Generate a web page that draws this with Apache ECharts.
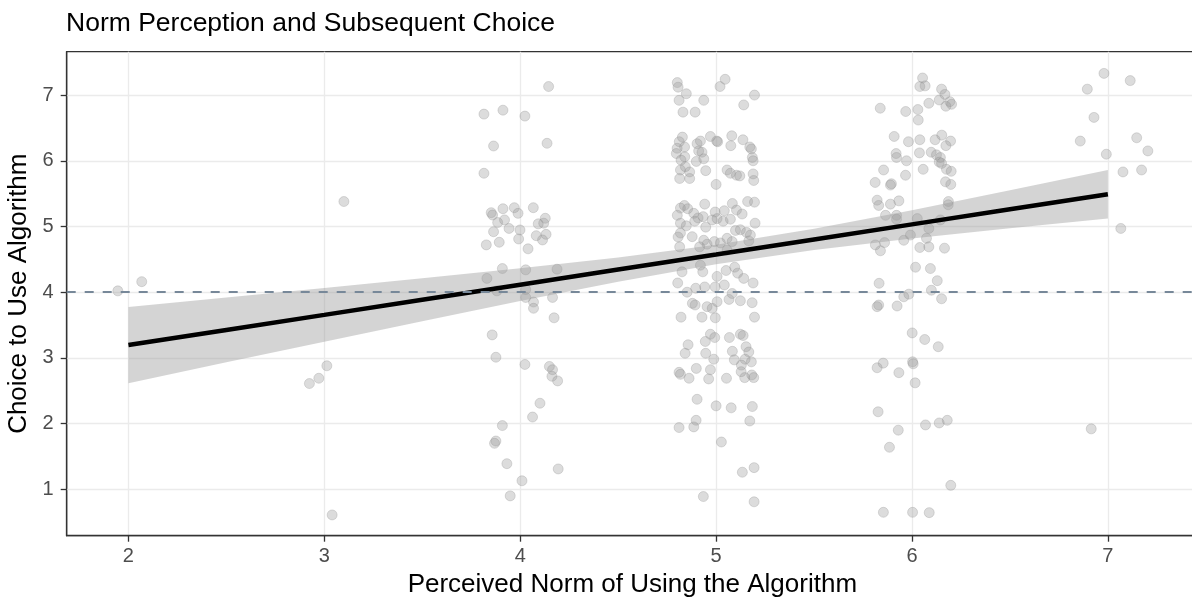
<!DOCTYPE html>
<html>
<head>
<meta charset="utf-8">
<title>Norm Perception and Subsequent Choice</title>
<script src="https://cdn.jsdelivr.net/npm/echarts@6/dist/echarts.min.js"></script>
<style>
  html, body { margin: 0; padding: 0; background: #ffffff; }
  #chart { width: 1192px; height: 600px; }
</style>
</head>
<body>
<div id="chart"></div>
<script>
// Jittered responses [perceived norm, choice], grouped by the norm level they came from
const normLevel2 = [[1.946, 4.02], [2.068, 4.16]];
const normLevel3 = [[2.924, 2.61], [2.972, 2.69], [3.013, 2.88], [3.04, 0.61], [3.10, 5.38]];
const normLevel4 = [
  [4.145, 7.13], [3.815, 6.71], [3.912, 6.77], [4.024, 6.68], [3.864, 6.225], [4.137, 6.266],
  [3.815, 5.81], [3.852, 5.21], [3.859, 5.175], [3.912, 5.27], [3.970, 5.286], [3.989, 5.20],
  [4.067, 5.286], [3.885, 5.06], [3.920, 5.10], [3.943, 4.97], [3.864, 4.92], [3.999, 4.947],
  [3.992, 4.81], [3.893, 4.76], [3.827, 4.72], [4.040, 4.66], [4.092, 5.04], [4.128, 5.125],
  [4.120, 5.05], [4.082, 4.86], [4.132, 4.88], [4.114, 4.795], [3.909, 4.36], [4.028, 4.34],
  [4.188, 4.35], [3.830, 4.21], [3.881, 4.02], [4.028, 4.04], [4.028, 3.92], [4.068, 3.85],
  [4.068, 3.755], [4.165, 3.92], [4.173, 3.61], [3.857, 3.35], [3.876, 3.01], [4.024, 2.90],
  [4.149, 2.87], [4.165, 2.82], [4.162, 2.72], [4.191, 2.65], [4.101, 2.31], [4.063, 2.10],
  [3.909, 1.97], [3.869, 1.70], [3.876, 1.735], [3.932, 1.39], [4.194, 1.31], [4.009, 1.13],
  [3.949, 0.90]
];
const normLevel5 = [
  [4.802, 7.19], [4.806, 7.12], [4.848, 7.02], [4.811, 6.92], [4.937, 6.92], [4.831, 6.74],
  [4.893, 6.74], [5.020, 7.13], [5.046, 7.24], [5.141, 6.85], [5.196, 7.00], [4.828, 6.36],
  [4.812, 6.29], [4.801, 6.19], [4.839, 6.21], [4.903, 6.26], [4.920, 6.30], [4.971, 6.37],
  [5.003, 6.30], [5.008, 6.29], [5.080, 6.38], [5.137, 6.32], [5.075, 6.23], [5.172, 6.21],
  [5.180, 6.18], [4.911, 6.15], [4.928, 6.13], [4.797, 6.11], [4.840, 6.06], [4.821, 6.01],
  [4.937, 6.03], [4.899, 5.99], [5.185, 6.05], [5.189, 6.00], [4.843, 5.91], [4.818, 5.86],
  [4.865, 5.83], [4.947, 5.85], [5.056, 5.86], [5.073, 5.81], [5.104, 5.78], [5.121, 5.77],
  [4.814, 5.73], [4.865, 5.73], [5.189, 5.80], [5.192, 5.70], [5.000, 5.64], [5.161, 5.38],
  [5.196, 5.37], [4.942, 5.34], [4.838, 5.32], [4.818, 5.28], [4.855, 5.27], [4.802, 5.17],
  [4.886, 5.20], [4.908, 5.13], [4.934, 5.15], [4.995, 5.22], [5.042, 5.24], [5.083, 5.35],
  [5.104, 5.25], [5.133, 5.19], [5.199, 5.05], [4.818, 5.05], [4.848, 5.01], [4.891, 5.08],
  [4.947, 4.99], [4.980, 5.10], [5.005, 5.12], [5.036, 5.08], [5.073, 5.11], [5.099, 4.94],
  [5.124, 4.95], [5.155, 4.91], [5.175, 4.87], [4.806, 4.84], [4.814, 4.69], [4.878, 4.845],
  [4.937, 4.79], [4.954, 4.73], [4.991, 4.77], [5.022, 4.75], [5.056, 4.82], [5.082, 4.77],
  [5.167, 4.78], [4.916, 4.69], [5.056, 4.64], [4.818, 4.90], [4.826, 4.31], [4.920, 4.41],
  [4.932, 4.31], [5.005, 4.24], [5.051, 4.33], [5.095, 4.38], [5.110, 4.29], [5.141, 4.21],
  [5.189, 4.14], [4.804, 4.14], [4.896, 4.06], [4.942, 4.08], [4.995, 4.08], [5.042, 4.11],
  [4.852, 4.00], [5.066, 3.89], [5.124, 3.87], [5.184, 3.84], [4.879, 3.83], [4.893, 3.805],
  [4.954, 3.78], [4.980, 3.755], [5.005, 3.855], [4.821, 3.62], [4.928, 3.62], [4.996, 3.61],
  [5.196, 3.62], [5.082, 3.98], [4.971, 3.36], [4.993, 3.31], [5.068, 3.31], [5.124, 3.36],
  [5.138, 3.34], [4.857, 3.20], [4.945, 3.25], [5.153, 3.17], [4.842, 3.07], [4.947, 3.07],
  [5.083, 3.10], [5.167, 3.09], [4.988, 2.98], [5.093, 2.97], [5.148, 2.98], [5.180, 2.94],
  [5.129, 2.89], [4.899, 2.84], [4.971, 2.82], [4.811, 2.78], [4.818, 2.75], [4.862, 2.69],
  [4.962, 2.68], [5.053, 2.69], [5.146, 2.70], [5.182, 2.74], [5.192, 2.70], [5.128, 2.79],
  [4.903, 2.37], [5.000, 2.27], [5.077, 2.24], [5.185, 2.26], [4.898, 2.05], [5.172, 2.04],
  [4.811, 1.94], [4.886, 1.95], [5.027, 1.72], [5.134, 1.26], [5.194, 1.33], [4.935, 0.89],
  [5.194, 0.81]
];
const normLevel6 = [
  [6.054, 7.26], [6.040, 7.13], [6.067, 7.14], [6.151, 7.09], [6.168, 7.01], [6.139, 6.925],
  [6.193, 6.90], [6.173, 6.83], [6.202, 6.86], [6.086, 6.875], [5.838, 6.80], [5.968, 6.75],
  [6.030, 6.78], [6.032, 6.62], [5.909, 6.37], [5.982, 6.29], [6.040, 6.32], [6.118, 6.32],
  [6.152, 6.39], [6.197, 6.30], [6.173, 6.23], [5.919, 6.11], [5.921, 6.05], [5.972, 6.00],
  [6.038, 6.12], [6.098, 6.13], [6.125, 6.09], [6.145, 6.05], [6.139, 5.98], [6.151, 5.96],
  [5.855, 5.86], [6.057, 5.87], [6.176, 5.87], [6.200, 5.84], [5.967, 5.78], [5.812, 5.67],
  [5.890, 5.63], [5.895, 5.65], [6.171, 5.68], [6.198, 5.64], [5.822, 5.40], [5.830, 5.32],
  [5.890, 5.34], [5.933, 5.39], [6.186, 5.38], [6.185, 5.33], [5.865, 5.17], [5.921, 5.17],
  [5.921, 5.11], [6.027, 5.12], [5.813, 4.72], [5.860, 4.755], [5.839, 4.63], [5.958, 4.79],
  [5.992, 4.87], [6.074, 4.82], [6.086, 4.97], [6.040, 4.68], [6.086, 4.69], [6.166, 4.67],
  [6.145, 5.10], [6.018, 4.38], [6.094, 4.36], [6.129, 4.175], [5.832, 4.135], [6.099, 4.03],
  [5.984, 3.97], [5.958, 3.93], [6.151, 3.90], [5.830, 3.805], [5.822, 3.78], [5.924, 3.79],
  [6.001, 3.38], [6.065, 3.28], [6.134, 3.17], [5.822, 2.85], [5.853, 2.92], [6.003, 2.94],
  [6.006, 2.91], [5.933, 2.775], [6.016, 2.62], [5.827, 2.18], [5.930, 1.90], [6.069, 1.98],
  [6.139, 2.01], [6.180, 2.05], [5.885, 1.64], [6.198, 1.06], [5.854, 0.65], [6.003, 0.65],
  [6.088, 0.645]
];
const normLevel7 = [
  [6.980, 7.33], [6.895, 7.09], [6.929, 6.66], [6.859, 6.30], [6.992, 6.10], [6.915, 1.92],
  [7.114, 7.22], [7.147, 6.35], [7.204, 6.15], [7.077, 5.83], [7.172, 5.86], [7.066, 4.97]
];

// Linear fit of choice on perceived norm, with its 95% confidence band
const fitNorm  = [2, 2.5, 3, 3.5, 4, 4.5, 5, 5.5, 6, 6.5, 7];
const fitValue = [3.196, 3.426, 3.655, 3.885, 4.114, 4.344, 4.573, 4.803, 5.032, 5.262, 5.491];
const fitLower = [2.616, 2.933, 3.247, 3.559, 3.865, 4.160, 4.425, 4.641, 4.816, 4.973, 5.122];
const fitUpper = [3.776, 3.919, 4.063, 4.211, 4.363, 4.528, 4.721, 4.965, 5.248, 5.551, 5.860];

// Neutral midpoint of the choice scale
const neutralChoice = 4;

const xTicks = [2, 3, 4, 5, 6, 7];
const yTicks = [1, 2, 3, 4, 5, 6, 7];

const allPoints = [].concat(normLevel2, normLevel3, normLevel4, normLevel5, normLevel6, normLevel7);
const fitLineData = fitNorm.map((x, i) => [x, fitValue[i]]);

const FONT = '"Liberation Sans", Arial, Helvetica, sans-serif';
const chart = echarts.init(document.getElementById('chart'), null, { renderer: 'canvas' });

// Confidence ribbon: upper edge left to right, then lower edge back
function renderBand(params, api) {
  if (params.dataIndex !== 0) return null;
  const pts = [];
  for (let i = 0; i < fitNorm.length; i++) pts.push(api.coord([fitNorm[i], fitUpper[i]]));
  for (let i = fitNorm.length - 1; i >= 0; i--) pts.push(api.coord([fitNorm[i], fitLower[i]]));
  return {
    type: 'polygon',
    shape: { points: pts },
    style: { fill: 'rgba(153,153,153,0.42)', stroke: null }
  };
}

chart.setOption({
  animation: false,
  backgroundColor: '#ffffff',
  textStyle: { fontFamily: FONT },
  title: {
    text: 'Norm Perception and Subsequent Choice',
    left: 61,
    top: 5,
    textStyle: { fontFamily: FONT, fontSize: 26.5, fontWeight: 'normal', color: '#000000' }
  },
  grid: {
    left: 66.7, top: 51.7, right: -6, bottom: 64.3,
    outerBoundsMode: 'none',
    containLabel: false,
    show: true, borderColor: '#333333', borderWidth: 1.3, backgroundColor: 'transparent'
  },
  xAxis: {
    type: 'value',
    min: 1.685, max: 7.46,
    name: 'Perceived Norm of Using the Algorithm',
    nameLocation: 'middle',
    nameGap: 34,
    nameTextStyle: { fontFamily: FONT, fontSize: 26, color: '#000000' },
    axisLine: { show: true, onZero: false, lineStyle: { color: '#333333', width: 1.3 } },
    axisTick: { show: true, length: 6, customValues: xTicks, lineStyle: { color: '#333333', width: 1.3 } },
    axisLabel: { customValues: xTicks, margin: 11, fontSize: 20, color: '#4d4d4d', fontFamily: FONT },
    splitLine: { show: true, lineStyle: { color: '#ebebeb', width: 1.3 } }
  },
  yAxis: {
    type: 'value',
    min: 0.294, max: 7.66,
    name: 'Choice to Use Algorithm',
    nameLocation: 'middle',
    nameGap: 32,
    nameRotate: 90,
    nameTextStyle: { fontFamily: FONT, fontSize: 26, color: '#000000' },
    axisLine: { show: true, onZero: false, lineStyle: { color: '#333333', width: 1.3 } },
    axisTick: { show: true, length: 6, customValues: yTicks, lineStyle: { color: '#333333', width: 1.3 } },
    axisLabel: { customValues: yTicks, margin: 13, fontSize: 20, color: '#4d4d4d', fontFamily: FONT },
    splitLine: { show: true, lineStyle: { color: '#ebebeb', width: 1.3 } }
  },
  series: [
    {
      name: 'responses',
      type: 'scatter',
      data: allPoints,
      symbol: 'circle',
      symbolSize: 10,
      itemStyle: { color: 'rgba(150,150,150,0.42)', borderColor: 'rgba(140,140,140,0.45)', borderWidth: 0.8 },
      z: 2
    },
    {
      name: 'band',
      type: 'custom',
      renderItem: renderBand,
      data: [[fitNorm[0], fitValue[0]]],
      encode: { x: 0, y: 1 },
      silent: true,
      z: 3
    },
    {
      name: 'fit',
      type: 'line',
      data: fitLineData,
      symbol: 'none',
      lineStyle: { color: '#000000', width: 4.5 },
      z: 4,
      markLine: {
        silent: true,
        symbol: 'none',
        label: { show: false },
        lineStyle: { color: '#778899', type: [9, 9], width: 2 },
        data: [{ yAxis: neutralChoice }],
        z: 5
      }
    }
  ]
});
</script>
</body>
</html>
